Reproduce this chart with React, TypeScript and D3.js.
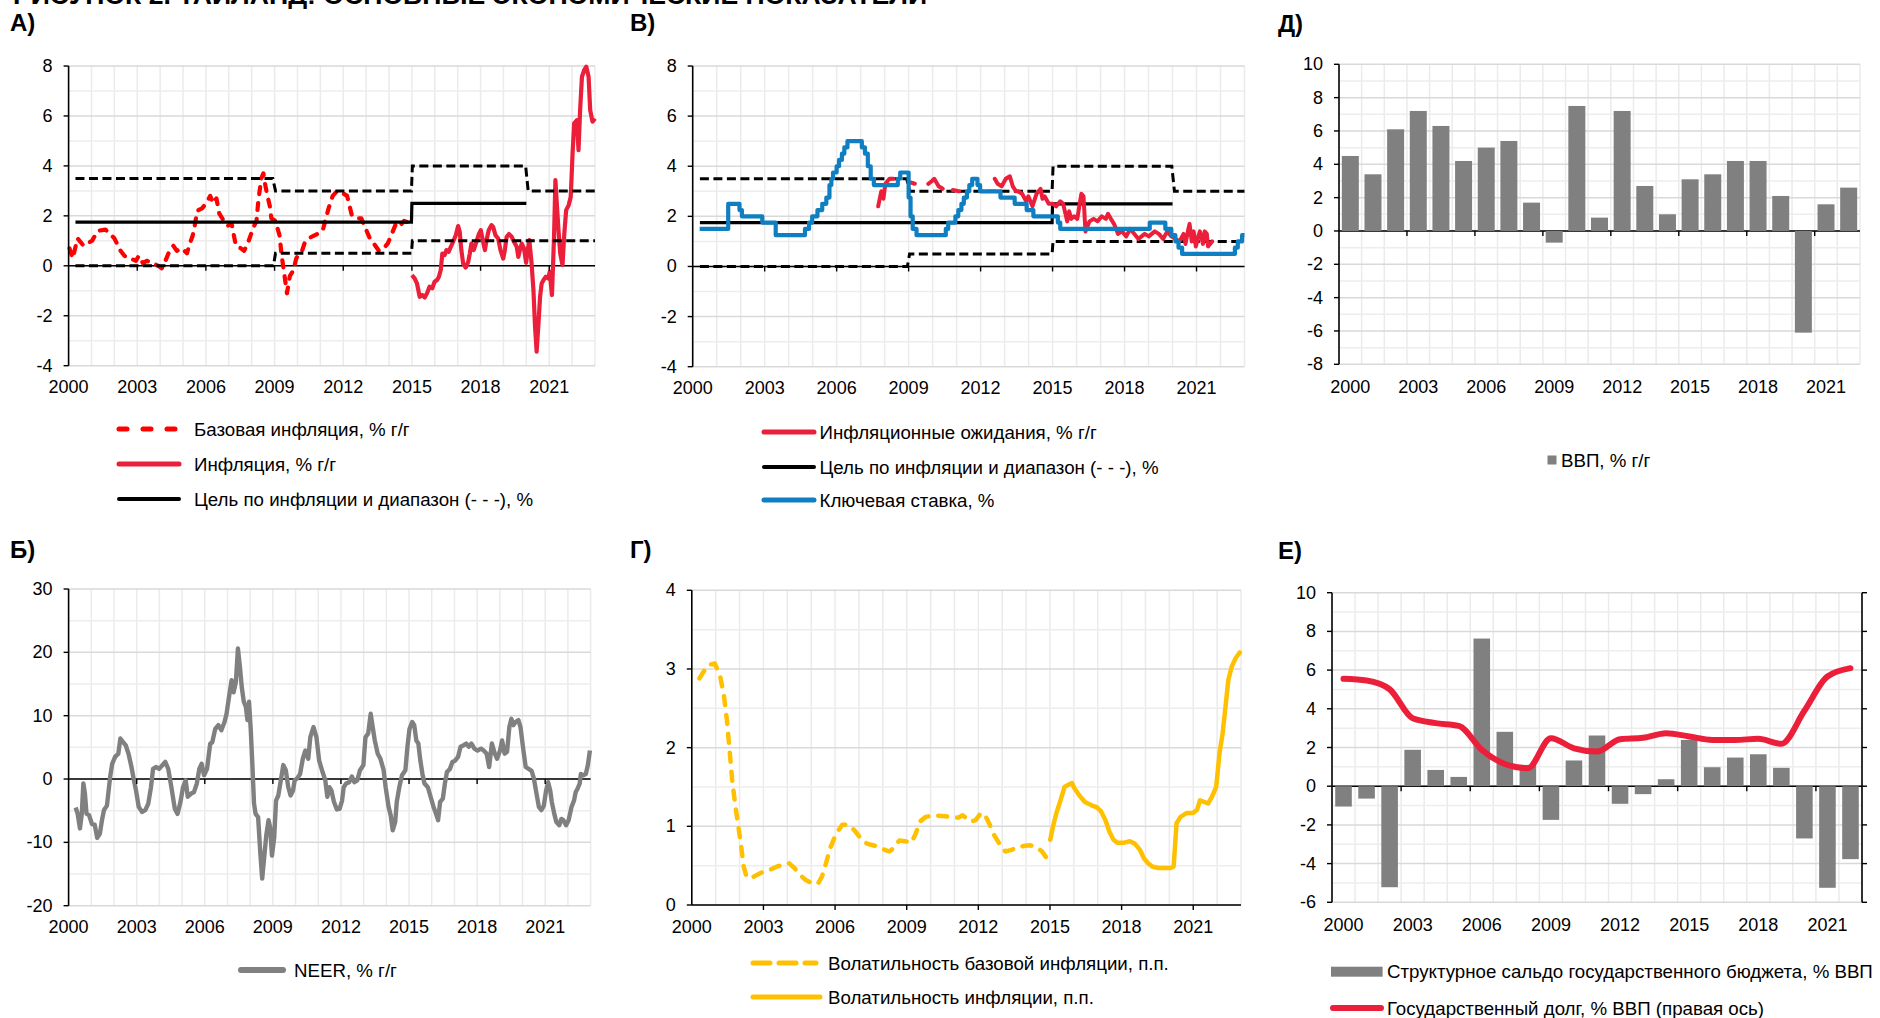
import React from "react";
import * as d3 from "d3";

type Pt = [number, number];
const FONT = "'Liberation Sans', Arial, Helvetica, sans-serif";

// ---------- DATA ----------
const yearLabels = [2000, 2003, 2006, 2009, 2012, 2015, 2018, 2021];
const yearGrid = [2001, 2002, 2003, 2004, 2005, 2006, 2007, 2008, 2009, 2010, 2011, 2012, 2013, 2014, 2015, 2016, 2017, 2018, 2019, 2020, 2021, 2022, 2023];
const barYears = [2000, 2001, 2002, 2003, 2004, 2005, 2006, 2007, 2008, 2009, 2010, 2011, 2012, 2013, 2014, 2015, 2016, 2017, 2018, 2019, 2020, 2021, 2022];

const targetMid: Pt[] = [[2000.3, 1.75], [2014.98, 1.75], [2015.0, 2.5], [2020.0, 2.5]];
const targetUpper: Pt[] = [[2000.3, 3.5], [2008.92, 3.5], [2009.04, 3.0], [2014.98, 3.0], [2015.02, 4.0], [2019.97, 4.0], [2020.08, 3.0], [2023.0, 3.0]];
const targetLower: Pt[] = [[2000.3, 0], [2008.95, 0], [2009.04, 0.5], [2014.98, 0.5], [2015.02, 1.0], [2023.0, 1.0]];

const coreInflation: Pt[] = [
  [2000.04, 0.7], [2000.18, 0.3], [2000.39, 1.1], [2000.66, 0.8], [2001.02, 1.0], [2001.28, 1.4], [2001.61, 1.45], [2001.78, 1.3],
  [2002.0, 1.1], [2002.27, 0.6], [2002.44, 0.4], [2002.68, 0.3], [2002.94, 0.2], [2003.07, 0.4], [2003.25, 0.1], [2003.42, 0.2],
  [2003.69, 0.1], [2003.92, 0.0], [2004.07, -0.1], [2004.23, 0.2], [2004.41, 0.6], [2004.58, 0.8], [2004.73, 0.6], [2004.94, 0.7],
  [2005.17, 0.5], [2005.3, 0.9], [2005.42, 1.2], [2005.51, 1.6], [2005.62, 2.2], [2005.83, 2.3], [2006.01, 2.5], [2006.19, 2.8],
  [2006.31, 2.5], [2006.46, 2.7], [2006.58, 2.1], [2006.78, 1.8], [2006.96, 1.6], [2007.12, 1.7], [2007.31, 0.8], [2007.53, 0.7],
  [2007.67, 0.6], [2007.83, 0.9], [2008.06, 1.5], [2008.21, 1.8], [2008.29, 2.6], [2008.42, 3.5], [2008.51, 3.7], [2008.6, 3.2],
  [2008.69, 2.8], [2008.79, 2.4], [2008.86, 1.9], [2009.04, 1.8], [2009.22, 1.2], [2009.31, 0.4], [2009.42, -0.3], [2009.54, -1.1],
  [2009.67, -0.4], [2009.81, -0.2], [2009.95, 0.3], [2010.08, 0.5], [2010.2, 0.6], [2010.31, 0.9], [2010.49, 1.1], [2010.7, 1.2],
  [2010.92, 1.3], [2011.1, 1.4], [2011.24, 1.9], [2011.36, 2.3], [2011.54, 2.8], [2011.74, 3.0], [2011.99, 2.9], [2012.17, 2.8],
  [2012.38, 2.0], [2012.61, 1.9], [2012.79, 1.9], [2013.02, 1.4], [2013.16, 1.1], [2013.33, 0.9], [2013.56, 0.6], [2013.77, 0.7],
  [2013.95, 0.9], [2014.13, 1.3], [2014.31, 1.7], [2014.48, 1.6], [2014.66, 1.8], [2014.93, 1.7],
];

const headlineInflation: Pt[] = [
  [2015.0, -0.37], [2015.12, -0.5], [2015.22, -0.7], [2015.34, -1.24], [2015.45, -1.17], [2015.56, -1.27], [2015.66, -1.1], [2015.77, -0.84],
  [2015.89, -0.9], [2015.99, -0.64], [2016.1, -0.57], [2016.18, -0.44], [2016.26, -0.17], [2016.33, 0.49], [2016.43, 0.43], [2016.51, 0.63],
  [2016.61, 0.56], [2016.7, 0.76], [2016.8, 0.96], [2016.92, 1.23], [2017.02, 1.59], [2017.09, 1.36], [2017.16, 0.63], [2017.24, 0.09],
  [2017.35, -0.07], [2017.46, 0.16], [2017.53, 0.49], [2017.6, 0.89], [2017.7, 0.63], [2017.82, 0.96], [2017.92, 1.26], [2018.01, 1.43],
  [2018.11, 0.96], [2018.19, 0.63], [2018.26, 1.03], [2018.36, 1.43], [2018.48, 1.63], [2018.55, 1.56], [2018.65, 1.23], [2018.77, 1.09],
  [2018.87, 0.63], [2018.99, 0.29], [2019.06, 0.63], [2019.14, 1.16], [2019.24, 1.27], [2019.36, 1.16], [2019.46, 0.96], [2019.58, 0.76],
  [2019.65, 0.36], [2019.72, 0.63], [2019.8, 0.89], [2019.9, 0.69], [2019.99, 0.12], [2020.06, 0.63], [2020.13, 1.03], [2020.23, 0.09],
  [2020.31, -0.97], [2020.38, -2.44], [2020.45, -3.44], [2020.53, -2.31], [2020.6, -1.24], [2020.67, -0.71], [2020.75, -0.57], [2020.85, -0.44],
  [2020.96, -0.51], [2021.02, -0.24], [2021.12, -1.17], [2021.21, 1.16], [2021.27, 3.43], [2021.34, 2.36], [2021.41, 1.36], [2021.48, 0.49],
  [2021.58, 0.03], [2021.66, 1.3], [2021.74, 2.23], [2021.85, 2.43], [2021.94, 2.76], [2022.02, 4.5], [2022.09, 5.7], [2022.21, 5.83],
  [2022.28, 4.63], [2022.35, 6.23], [2022.43, 7.57], [2022.53, 7.84], [2022.62, 7.97], [2022.72, 7.57], [2022.79, 6.23], [2022.89, 5.77],
  [2023.0, 5.9],
];

const keyRate: Pt[] = [
  [2000.29, 1.5], [2001.48, 2.5], [2001.95, 2.25], [2002.05, 2.0], [2002.9, 1.75], [2003.46, 1.25], [2004.68, 1.5], [2004.85, 1.75],
  [2004.98, 2.0], [2005.2, 2.25], [2005.4, 2.5], [2005.57, 2.75], [2005.7, 3.25], [2005.78, 3.5], [2005.85, 3.75], [2006.0, 4.0],
  [2006.1, 4.25], [2006.22, 4.5], [2006.32, 4.75], [2006.45, 5.0], [2007.05, 4.75], [2007.18, 4.5], [2007.3, 4.0], [2007.42, 3.5],
  [2007.55, 3.25], [2008.55, 3.5], [2008.65, 3.75], [2009.0, 2.75], [2009.08, 2.0], [2009.17, 1.5], [2009.33, 1.25], [2010.55, 1.5],
  [2010.65, 1.75], [2010.95, 2.0], [2011.07, 2.25], [2011.2, 2.5], [2011.3, 2.75], [2011.43, 3.0], [2011.53, 3.25], [2011.65, 3.5],
  [2011.87, 3.25], [2011.98, 3.0], [2012.83, 2.75], [2013.42, 2.5], [2013.92, 2.25], [2014.2, 2.0], [2015.22, 1.75], [2015.32, 1.5],
  [2019.05, 1.75], [2019.7, 1.5], [2019.95, 1.25], [2020.12, 1.0], [2020.25, 0.75], [2020.4, 0.5], [2022.6, 0.75], [2022.72, 1.0],
  [2022.9, 1.25], [2023.0, 1.25],
];

const inflExpectations: Pt[] = [
  [2007.73, 2.4], [2007.86, 3.0], [2007.95, 2.7], [2008.03, 3.3], [2008.2, 3.5], [2008.37, 3.5], [2008.45, NaN],
  [2009.09, 3.35], [2009.26, 3.3], [2009.4, NaN],
  [2009.82, 3.3], [2009.96, 3.4], [2010.07, 3.5], [2010.25, 3.2], [2010.42, 3.1], [2010.6, NaN],
  [2010.84, 3.05], [2011.1, 3.0], [2011.2, NaN],
  [2012.59, 3.5], [2012.71, 3.3], [2012.88, 3.2], [2013.05, 3.5], [2013.22, 3.6], [2013.34, 3.2], [2013.48, 3.0], [2013.56, 3.0],
  [2013.73, 2.9], [2013.9, 2.6], [2013.99, 2.8], [2014.16, 2.4], [2014.33, 2.9], [2014.5, 3.1], [2014.58, 2.7], [2014.67, 2.8],
  [2014.84, 2.5], [2015.01, 2.5], [2015.15, 2.4], [2015.32, 2.6], [2015.44, 2.5], [2015.61, 1.8], [2015.69, 2.2], [2015.78, 1.9],
  [2015.9, 2.0], [2016.03, 1.9], [2016.2, 2.9], [2016.29, 2.8], [2016.37, 1.4], [2016.54, 1.8], [2016.71, 1.9], [2016.88, 1.8],
  [2017.05, 2.0], [2017.22, 1.9], [2017.31, 2.1], [2017.43, 1.9], [2017.56, 1.7], [2017.73, 1.3], [2017.9, 1.4], [2018.07, 1.2],
  [2018.24, 1.5], [2018.41, 1.3], [2018.58, 1.1], [2018.84, 1.3], [2019.01, 1.2], [2019.26, 1.4], [2019.43, 1.3], [2019.61, 1.1],
  [2019.78, 1.4], [2019.95, 1.2], [2020.12, 1.1], [2020.29, 1.0], [2020.46, 1.3], [2020.54, 0.9], [2020.66, 1.5], [2020.71, 1.7],
  [2020.8, 1.0], [2020.88, 1.4], [2020.97, 0.8], [2021.05, 1.1], [2021.14, 1.4], [2021.27, 0.9], [2021.34, 1.4], [2021.43, 1.3],
  [2021.48, 0.8], [2021.65, 1.0],
];

const neer: Pt[] = [
  [2000.31, -4.5], [2000.4, -5.5], [2000.5, -7.8], [2000.58, -5.5], [2000.65, -0.7], [2000.72, -2.3], [2000.79, -5.5], [2000.9, -5.7],
  [2001.03, -7.1], [2001.15, -7.2], [2001.26, -9.3], [2001.38, -8.6], [2001.47, -6.5], [2001.56, -4.9], [2001.69, -4.2], [2001.83, 0.3],
  [2001.92, 2.4], [2002.05, 3.5], [2002.19, 4.0], [2002.28, 6.4], [2002.41, 5.8], [2002.52, 5.3], [2002.64, 4.0], [2002.77, 1.9],
  [2002.88, -0.2], [2002.97, -1.8], [2003.09, -4.4], [2003.24, -5.2], [2003.38, -4.9], [2003.51, -3.9], [2003.63, -1.3], [2003.72, 1.6],
  [2003.85, 1.9], [2003.99, 1.6], [2004.14, 2.2], [2004.26, 2.7], [2004.39, 1.6], [2004.53, -1.3], [2004.68, -4.7], [2004.8, -5.5],
  [2004.93, -3.6], [2005.04, -1.3], [2005.16, -0.2], [2005.25, -2.8], [2005.4, -2.3], [2005.52, -2.1], [2005.65, -0.7], [2005.76, 1.6],
  [2005.86, 2.4], [2005.97, 0.6], [2006.1, 1.6], [2006.24, 5.6], [2006.33, 5.8], [2006.46, 7.9], [2006.6, 8.5], [2006.73, 7.7],
  [2006.87, 9.0], [2006.96, 10.3], [2007.09, 13.5], [2007.18, 15.6], [2007.27, 13.7], [2007.37, 15.3], [2007.46, 20.6], [2007.55, 17.7],
  [2007.63, 14.5], [2007.72, 12.2], [2007.81, 11.4], [2007.88, 9.3], [2007.95, 12.2], [2008.02, 8.2], [2008.09, 2.9], [2008.17, -3.9],
  [2008.24, -5.5], [2008.35, -6.0], [2008.45, -11.8], [2008.53, -15.7], [2008.62, -12.3], [2008.71, -8.9], [2008.81, -6.5], [2008.88, -7.6],
  [2008.96, -12.1], [2009.06, -9.2], [2009.14, -3.4], [2009.24, -2.6], [2009.35, -0.2], [2009.46, 2.2], [2009.57, 1.4], [2009.68, -1.3],
  [2009.78, -2.6], [2009.89, -1.8], [2009.96, -0.2], [2010.07, 0.1], [2010.2, 0.8], [2010.32, 3.2], [2010.43, 4.5], [2010.56, 3.2],
  [2010.65, 6.6], [2010.79, 8.2], [2010.92, 6.6], [2011.04, 2.9], [2011.19, 1.1], [2011.31, -0.2], [2011.4, -2.8], [2011.49, -1.3],
  [2011.58, -1.8], [2011.69, -3.6], [2011.82, -4.8], [2011.94, -4.7], [2012.05, -3.4], [2012.12, -1.3], [2012.23, -0.7], [2012.36, -0.5],
  [2012.48, 0.4], [2012.59, -0.5], [2012.72, -0.2], [2012.84, 1.4], [2012.99, 2.2], [2013.08, 6.6], [2013.2, 7.2], [2013.31, 10.3],
  [2013.4, 8.2], [2013.49, 6.1], [2013.62, 4.0], [2013.74, 3.2], [2013.88, 1.4], [2013.97, -1.3], [2014.1, -4.4], [2014.19, -5.7],
  [2014.28, -8.1], [2014.39, -6.8], [2014.46, -3.6], [2014.57, -1.3], [2014.69, 0.6], [2014.84, 1.4], [2014.93, 5.1], [2015.02, 7.9],
  [2015.14, 9.0], [2015.23, 8.5], [2015.32, 6.1], [2015.41, 5.6], [2015.5, 2.9], [2015.59, 0.8], [2015.68, -0.7], [2015.83, -1.3],
  [2015.95, -2.8], [2016.08, -4.4], [2016.19, -5.5], [2016.28, -6.5], [2016.37, -3.6], [2016.49, -3.1], [2016.58, -0.7], [2016.67, 1.1],
  [2016.8, 1.6], [2016.91, 2.7], [2017.03, 2.9], [2017.16, 3.5], [2017.27, 5.1], [2017.39, 5.3], [2017.52, 5.6], [2017.63, 5.1],
  [2017.75, 5.6], [2017.88, 4.8], [2018.02, 4.5], [2018.17, 4.8], [2018.29, 4.5], [2018.42, 4.0], [2018.53, 1.9], [2018.65, 5.6],
  [2018.78, 4.0], [2018.88, 3.2], [2019.01, 4.5], [2019.1, 6.1], [2019.21, 4.0], [2019.32, 4.3], [2019.42, 8.2], [2019.51, 9.5],
  [2019.6, 8.5], [2019.69, 9.0], [2019.82, 9.3], [2019.91, 8.2], [2020.04, 4.5], [2020.14, 1.9], [2020.27, 1.6], [2020.4, 1.3],
  [2020.5, 0.1], [2020.63, -2.6], [2020.72, -4.4], [2020.83, -4.9], [2020.94, -4.2], [2021.04, -1.8], [2021.13, -0.5], [2021.22, -1.8],
  [2021.29, -3.6], [2021.4, -5.5], [2021.49, -6.8], [2021.62, -7.3], [2021.71, -6.3], [2021.8, -6.5], [2021.92, -7.3], [2022.03, -6.5],
  [2022.16, -4.4], [2022.27, -3.4], [2022.34, -2.1], [2022.43, -1.5], [2022.52, -0.7], [2022.57, 0.8], [2022.7, 0.6], [2022.79, 0.8],
  [2022.88, 2.2], [2022.97, 4.5],
];

const volCore: Pt[] = [
  [2000.32, 2.88], [2000.67, 3.05], [2000.96, 3.07], [2001.18, 2.92], [2001.35, 2.65], [2001.47, 2.35], [2001.57, 2.01], [2001.69, 1.59],
  [2001.81, 1.29], [2001.95, 1.0], [2002.07, 0.74], [2002.17, 0.49], [2002.29, 0.36], [2002.46, 0.34], [2002.72, 0.38], [2002.97, 0.42],
  [2003.23, 0.44], [2003.57, 0.49], [2003.83, 0.51], [2004.08, 0.53], [2004.3, 0.47], [2004.51, 0.39], [2004.76, 0.32], [2005.02, 0.28],
  [2005.28, 0.27], [2005.45, 0.36], [2005.62, 0.53], [2005.79, 0.72], [2006.05, 0.91], [2006.3, 1.02], [2006.56, 1.02], [2006.81, 0.95],
  [2007.07, 0.85], [2007.33, 0.78], [2007.58, 0.76], [2007.84, 0.74], [2008.09, 0.7], [2008.27, 0.68], [2008.44, 0.72], [2008.69, 0.82],
  [2008.95, 0.81], [2009.2, 0.79], [2009.38, 0.91], [2009.55, 1.06], [2009.8, 1.12], [2010.14, 1.14], [2010.49, 1.13], [2010.83, 1.12],
  [2011.17, 1.11], [2011.34, 1.14], [2011.51, 1.1], [2011.68, 1.06], [2011.89, 1.08], [2012.11, 1.17], [2012.28, 1.14], [2012.45, 1.04],
  [2012.62, 0.91], [2012.88, 0.78], [2013.13, 0.68], [2013.39, 0.7], [2013.64, 0.74], [2013.9, 0.75], [2014.16, 0.76], [2014.41, 0.74],
  [2014.67, 0.68], [2014.92, 0.57],
];

const volHeadline: Pt[] = [
  [2015.01, 0.83], [2015.13, 1.0], [2015.27, 1.17], [2015.44, 1.33], [2015.61, 1.5], [2015.78, 1.53], [2015.92, 1.55], [2016.03, 1.48],
  [2016.21, 1.4], [2016.46, 1.31], [2016.72, 1.27], [2016.97, 1.24], [2017.14, 1.19], [2017.32, 1.08], [2017.49, 0.93], [2017.66, 0.83],
  [2017.83, 0.79], [2018.08, 0.79], [2018.34, 0.81], [2018.55, 0.78], [2018.77, 0.7], [2018.94, 0.59], [2019.11, 0.53], [2019.28, 0.49],
  [2019.54, 0.47], [2019.79, 0.47], [2020.05, 0.47], [2020.18, 0.49], [2020.3, 1.04], [2020.47, 1.12], [2020.73, 1.17], [2020.99, 1.17],
  [2021.16, 1.21], [2021.28, 1.33], [2021.45, 1.31], [2021.62, 1.29], [2021.79, 1.38], [2021.96, 1.5], [2022.1, 1.93], [2022.23, 2.18],
  [2022.35, 2.52], [2022.47, 2.86], [2022.61, 3.03], [2022.78, 3.14], [2022.95, 3.21],
];

const gdpGrowth = [4.5, 3.4, 6.1, 7.2, 6.3, 4.2, 5.0, 5.4, 1.7, -0.7, 7.5, 0.8, 7.2, 2.7, 1.0, 3.1, 3.4, 4.2, 4.2, 2.1, -6.1, 1.6, 2.6];
const structBalance = [-1.05, -0.64, -5.22, 1.88, 0.84, 0.48, 7.63, 2.81, 1.1, -1.74, 1.33, 2.62, -0.91, -0.41, 0.36, 2.39, 0.98, 1.48, 1.65, 0.95, -2.7, -5.25, -3.77];
const publicDebt = [5.55, 5.46, 5.01, 3.51, 3.26, 3.12, 1.88, 1.15, 0.93, 2.48, 1.96, 1.79, 2.43, 2.5, 2.74, 2.57, 2.39, 2.39, 2.45, 2.19, 3.9, 5.67, 6.1];

// ---------- COLOURS ----------
const RED_CORE = "#ff0000";
const RED = "#ec1f3b";
const BLUE = "#0f7fc1";
const GREY = "#808080";
const YELLOW = "#ffc000";
const LEG_FS = 18.7;

// ---------- HELPERS ----------
type Scale = d3.ScaleLinear<number, number>;

function Frame(props: {
  left: number; right: number; top: number; bottom: number;
  y: Scale; hGrid: number[]; yTicks: number[];
  vGrid: number[]; xLabels: { px: number; text: string }[]; zeroTicks: number[];
  labelY: number; rightAxis?: boolean; children?: React.ReactNode;
}) {
  const { left, right, top, bottom, y } = props;
  const y0 = y(0);
  return (
    <g>
      {props.vGrid.map((px, i) => (
        <line key={"v" + i} x1={px} x2={px} y1={top} y2={bottom} stroke="#ebebeb" strokeWidth={1.5} />
      ))}
      {props.hGrid.map((v, i) => (
        <line key={"h" + i} x1={left} x2={right} y1={y(v)} y2={y(v)}
          stroke={props.yTicks.includes(v) ? "#d9d9d9" : "#ededed"} strokeWidth={1.5} />
      ))}
      <line x1={left} x2={right} y1={y0} y2={y0} stroke="#000" strokeWidth={1.4} />
      {props.children}
      <line x1={left} x2={left} y1={top} y2={bottom} stroke="#000" strokeWidth={1.6} />
      {props.yTicks.map((v, i) => (
        <line key={"yt" + i} x1={left - 5} x2={left} y1={y(v)} y2={y(v)} stroke="#000" strokeWidth={1.4} />
      ))}
      {props.rightAxis && (
        <g>
          <line x1={right} x2={right} y1={top} y2={bottom} stroke="#000" strokeWidth={1.6} />
          {props.yTicks.map((v, i) => (
            <line key={"rt" + i} x1={right} x2={right + 5} y1={y(v)} y2={y(v)} stroke="#000" strokeWidth={1.4} />
          ))}
        </g>
      )}
      {props.zeroTicks.map((px, i) => (
        <line key={"zt" + i} x1={px} x2={px} y1={y0} y2={y0 + 5} stroke="#000" strokeWidth={1.4} />
      ))}
      {props.yTicks.map((v, i) => (
        <text key={"yl" + i} x={left - 16} y={y(v)} textAnchor="end" dominantBaseline="central" fontSize={18}>{String(v)}</text>
      ))}
      {props.xLabels.map((l, i) => (
        <text key={"xl" + i} x={l.px} y={props.labelY} textAnchor="middle" dominantBaseline="central" fontSize={18}>{l.text}</text>
      ))}
    </g>
  );
}

function linePath(data: Pt[], x: Scale, y: Scale, step = false) {
  const g = d3.line<Pt>().defined((d) => !isNaN(d[1])).x((d) => x(d[0])).y((d) => y(d[1]));
  if (step) g.curve(d3.curveStepAfter);
  return g(data) || "";
}

function LegendLine(props: { x1: number; x2: number; y: number; color: string; width?: number; dash?: string; text: string; tx: number }) {
  return (
    <g>
      <line x1={props.x1} x2={props.x2} y1={props.y} y2={props.y} stroke={props.color} strokeWidth={props.width ?? 5}
        strokeDasharray={props.dash} strokeLinecap="round" />
      <text x={props.tx} y={props.y} dominantBaseline="central" fontSize={LEG_FS}>{props.text}</text>
    </g>
  );
}

function range(a: number, b: number, s: number) {
  const out: number[] = [];
  for (let v = a; v <= b + 1e-9; v += s) out.push(Math.round(v * 100) / 100);
  return out;
}

// ---------- PANELS ----------
function InflationPanel(p: { left: number; right: number; top: number; bottom: number; labelY: number; mode: "A" | "B" }) {
  const x = d3.scaleLinear().domain([2000, 2023]).range([p.left, p.right]);
  const y = d3.scaleLinear().domain([-4, 8]).range([p.bottom, p.top]);
  const hGrid = range(-4, 8, 1);
  const yTicks = range(-4, 8, 2);
  return (
    <Frame left={p.left} right={p.right} top={p.top} bottom={p.bottom} y={y} hGrid={hGrid} yTicks={yTicks}
      vGrid={yearGrid.map((v) => x(v))}
      xLabels={yearLabels.map((v) => ({ px: x(v), text: String(v) }))}
      zeroTicks={yearLabels.slice(1).map((v) => x(v))} labelY={p.labelY}>
      {p.mode === "A" && (
        <g fill="none">
          <path d={linePath(coreInflation, x, y)} stroke={RED_CORE} strokeWidth={4.2} strokeDasharray="7 9" strokeLinecap="round" strokeLinejoin="round" />
          <path d={linePath(headlineInflation, x, y)} stroke={RED} strokeWidth={4.2} strokeLinejoin="round" />
        </g>
      )}
      <g fill="none">
        <path d={linePath(targetLower, x, y)} stroke="#000" strokeWidth={3} strokeDasharray="9 4.5" />
        <path d={linePath(targetUpper, x, y)} stroke="#000" strokeWidth={3} strokeDasharray="9 4.5" />
        <path d={linePath(targetMid, x, y)} stroke="#000" strokeWidth={3.2} />
      </g>
      {p.mode === "B" && (
        <g fill="none">
          <path d={linePath(inflExpectations, x, y)} stroke={RED} strokeWidth={4} strokeLinejoin="round" strokeLinecap="round" />
          <path d={linePath(keyRate, x, y, true)} stroke={BLUE} strokeWidth={4.2} strokeLinejoin="round" />
        </g>
      )}
    </Frame>
  );
}

function NeerPanel() {
  const left = 68.6, right = 590.6, top = 589, bottom = 905.7;
  const x = d3.scaleLinear().domain([2000, 2023]).range([left, right]);
  const y = d3.scaleLinear().domain([-20, 30]).range([bottom, top]);
  return (
    <Frame left={left} right={right} top={top} bottom={bottom} y={y} hGrid={range(-20, 30, 5)} yTicks={range(-20, 30, 10)}
      vGrid={yearGrid.map((v) => x(v))}
      xLabels={yearLabels.map((v) => ({ px: x(v), text: String(v) }))}
      zeroTicks={yearLabels.slice(1).map((v) => x(v))} labelY={927}>
      <path d={linePath(neer, x, y)} fill="none" stroke={GREY} strokeWidth={4.4} strokeLinejoin="round" />
    </Frame>
  );
}

function VolPanel() {
  const left = 691.8, right = 1241, top = 590.3, bottom = 905;
  const x = d3.scaleLinear().domain([2000, 2023]).range([left, right]);
  const y = d3.scaleLinear().domain([0, 4]).range([bottom, top]);
  return (
    <Frame left={left} right={right} top={top} bottom={bottom} y={y} hGrid={range(0, 4, 0.5)} yTicks={range(0, 4, 1)}
      vGrid={yearGrid.map((v) => x(v))}
      xLabels={yearLabels.map((v) => ({ px: x(v), text: String(v) }))}
      zeroTicks={yearLabels.slice(1).map((v) => x(v))} labelY={927}>
      <path d={linePath(volCore, x, y)} fill="none" stroke={YELLOW} strokeWidth={4.5} strokeDasharray="9 10" strokeLinecap="round" strokeLinejoin="round" />
      <path d={linePath(volHeadline, x, y)} fill="none" stroke={YELLOW} strokeWidth={4.5} strokeLinejoin="round" strokeLinecap="round" />
    </Frame>
  );
}

function GdpPanel() {
  const left = 1339, right = 1860, top = 64.3, bottom = 364.3;
  const xb = d3.scaleBand<number>().domain(barYears).range([left, right]).paddingInner(0.25).paddingOuter(0.125);
  const y = d3.scaleLinear().domain([-8, 10]).range([bottom, top]);
  const step = xb.step();
  const bounds = barYears.map((_, i) => left + (i + 1) * step);
  return (
    <Frame left={left} right={right} top={top} bottom={bottom} y={y} hGrid={range(-8, 10, 1)} yTicks={range(-8, 10, 2)}
      vGrid={bounds}
      xLabels={yearLabels.map((v) => ({ px: (xb(v) as number) + xb.bandwidth() / 2, text: String(v) }))}
      zeroTicks={[3, 6, 9, 12, 15, 18, 21].map((i) => left + i * step)} labelY={387}>
      {gdpGrowth.map((v, i) => (
        <rect key={i} x={xb(barYears[i]) as number} width={xb.bandwidth()} y={Math.min(y(v), y(0))}
          height={Math.abs(y(v) - y(0))} fill={GREY} />
      ))}
    </Frame>
  );
}

function FiscalPanel() {
  const left = 1332, right = 1862, top = 592.7, bottom = 902.3;
  const xb = d3.scaleBand<number>().domain(barYears).range([left, right]).paddingInner(0.28).paddingOuter(0.14);
  const y = d3.scaleLinear().domain([-6, 10]).range([bottom, top]);
  const step = xb.step();
  const bounds = barYears.map((_, i) => left + (i + 1) * step);
  const cx = (yr: number) => (xb(yr) as number) + xb.bandwidth() / 2;
  const debtLine = d3.line<number>().x((_, i) => cx(barYears[i])).y((d) => y(d)).curve(d3.curveMonotoneX)(publicDebt) || "";
  return (
    <Frame left={left} right={right} top={top} bottom={bottom} y={y} hGrid={range(-6, 10, 1)} yTicks={range(-6, 10, 2)}
      vGrid={bounds}
      xLabels={yearLabels.map((v) => ({ px: cx(v), text: String(v) }))}
      zeroTicks={[3, 6, 9, 12, 15, 18, 21].map((i) => left + i * step)} labelY={925} rightAxis>
      {structBalance.map((v, i) => (
        <rect key={i} x={xb(barYears[i]) as number} width={xb.bandwidth()} y={Math.min(y(v), y(0))}
          height={Math.abs(y(v) - y(0))} fill={GREY} />
      ))}
      <path d={debtLine} fill="none" stroke={RED} strokeWidth={6} strokeLinejoin="round" strokeLinecap="round" />
    </Frame>
  );
}

export default function App() {
  return (
    <svg width={1880} height={1018} viewBox="0 0 1880 1018"
      style={{ position: "absolute", left: 0, top: 0, background: "#fff", fontFamily: FONT }}>
      <rect x={0} y={0} width={1880} height={1018} fill="#fff" />
      <text x={13} y={4} fontSize={26} fontWeight="bold" textLength={914} lengthAdjust="spacingAndGlyphs">
        РИСУНОК 2. ТАИЛАНД: ОСНОВНЫЕ ЭКОНОМИЧЕСКИЕ ПОКАЗАТЕЛИ
      </text>
      <g fontSize={24} fontWeight="bold">
        <text x={10} y={31}>А)</text>
        <text x={630} y={31}>В)</text>
        <text x={1278} y={32}>Д)</text>
        <text x={10} y={558}>Б)</text>
        <text x={630} y={558}>Г)</text>
        <text x={1278} y={559}>Е)</text>
      </g>

      <InflationPanel left={68.6} right={595} top={66} bottom={365.7} labelY={387} mode="A" />
      <InflationPanel left={692.7} right={1244.5} top={66} bottom={366.7} labelY={388} mode="B" />
      <GdpPanel />
      <NeerPanel />
      <VolPanel />
      <FiscalPanel />

      {/* Legends */}
      <LegendLine x1={119} x2={179} y={429} color={RED_CORE} dash="8 16" text="Базовая инфляция, % г/г" tx={194} />
      <LegendLine x1={119} x2={179} y={464} color={RED} text="Инфляция, % г/г" tx={194} />
      <LegendLine x1={119} x2={179} y={499} color="#000" width={4} text="Цель по инфляции и диапазон (- - -), %" tx={194} />

      <LegendLine x1={764} x2={814} y={432} color={RED} text="Инфляционные ожидания, % г/г" tx={819.5} />
      <LegendLine x1={764} x2={814} y={467} color="#000" width={4} text="Цель по инфляции и диапазон (- - -), %" tx={819.5} />
      <LegendLine x1={764} x2={814} y={500} color={BLUE} text="Ключевая ставка, %" tx={819.5} />

      <rect x={1547.5} y={455.5} width={9} height={9} fill={GREY} />
      <text x={1561} y={460} dominantBaseline="central" fontSize={LEG_FS}>ВВП, % г/г</text>

      <LegendLine x1={241} x2={283} y={970} color={GREY} width={6} text="NEER, % г/г" tx={294} />

      <LegendLine x1={753} x2={816} y={963} color={YELLOW} dash="17 9" text="Волатильность базовой инфляции, п.п." tx={828} />
      <LegendLine x1={753} x2={820} y={997} color={YELLOW} text="Волатильность инфляции, п.п." tx={828} />

      <rect x={1331} y={966.7} width={51.6} height={10} fill={GREY} />
      <text x={1387} y={971.7} dominantBaseline="central" fontSize={LEG_FS}>Структурное сальдо государственного бюджета, % ВВП</text>
      <LegendLine x1={1333} x2={1381} y={1008} color={RED} width={6} text="Государственный долг, % ВВП (правая ось)" tx={1387} />
    </svg>
  );
}
